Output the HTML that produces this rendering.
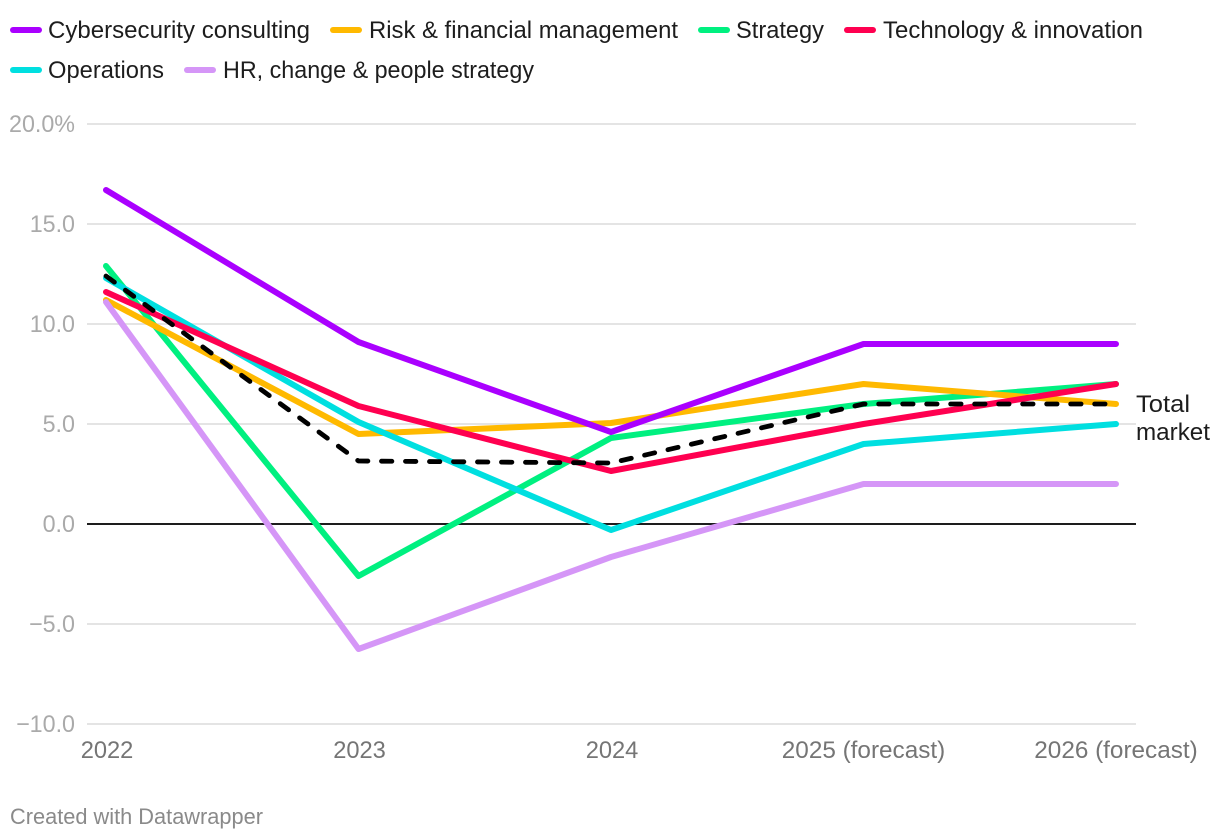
<!DOCTYPE html>
<html lang="en">
<head>
<meta charset="utf-8">
<title>Consulting market growth by segment</title>
<style>
html,body{margin:0;padding:0;background:#fff}
svg{display:block;font-family:"Liberation Sans",Arial,sans-serif}
.leg{font-size:24px;fill:#1d1d1d}
.yt{font-size:24px;fill:#aaaaaa}
.xt{font-size:24px;fill:#757575}
</style>
</head>
<body>
<svg id="chart" width="1220" height="840" viewBox="0 0 1220 840" xmlns="http://www.w3.org/2000/svg">
  <g id="grid"></g>
  <g id="yticks"></g>
  <g id="xticks"></g>
  <g id="series"></g>

  <g>
    <g>
      <line x1="13" x2="39" y1="30" y2="30" stroke="#aa00ff" stroke-width="6" stroke-linecap="round"/>
      <text class="leg" x="48" y="38" textLength="262" lengthAdjust="spacingAndGlyphs">Cybersecurity consulting</text>
    </g>
    <g>
      <line x1="333" x2="359" y1="30" y2="30" stroke="#ffb900" stroke-width="6" stroke-linecap="round"/>
      <text class="leg" x="369" y="38" textLength="309" lengthAdjust="spacingAndGlyphs">Risk &amp; financial management</text>
    </g>
    <g>
      <line x1="701" x2="727" y1="30" y2="30" stroke="#00f080" stroke-width="6" stroke-linecap="round"/>
      <text class="leg" x="736" y="38" textLength="88" lengthAdjust="spacingAndGlyphs">Strategy</text>
    </g>
    <g>
      <line x1="847" x2="873" y1="30" y2="30" stroke="#ff0050" stroke-width="6" stroke-linecap="round"/>
      <text class="leg" x="883" y="38" textLength="260" lengthAdjust="spacingAndGlyphs">Technology &amp; innovation</text>
    </g>
    <g>
      <line x1="13" x2="39" y1="70" y2="70" stroke="#00dfe0" stroke-width="6" stroke-linecap="round"/>
      <text class="leg" x="48" y="78" textLength="116" lengthAdjust="spacingAndGlyphs">Operations</text>
    </g>
    <g>
      <line x1="187" x2="213" y1="70" y2="70" stroke="#d596f7" stroke-width="6" stroke-linecap="round"/>
      <text class="leg" x="223" y="78" textLength="311" lengthAdjust="spacingAndGlyphs">HR, change &amp; people strategy</text>
    </g>
  </g>

  <g>
    <text class="leg" x="1136" y="412" textLength="54" lengthAdjust="spacingAndGlyphs">Total</text>
    <text class="leg" x="1136" y="440" textLength="74" lengthAdjust="spacingAndGlyphs">market</text>
  </g>

  <text x="10" y="824" font-size="22" fill="#8a8a8a" textLength="253" lengthAdjust="spacingAndGlyphs">Created with Datawrapper</text>
</svg>
<script>
var categories = ['2022', '2023', '2024', '2025 (forecast)', '2026 (forecast)'];
var yTickValues = [20, 15, 10, 5, 0, -5, -10];
var yTickLabels = ['20.0%', '15.0', '10.0', '5.0', '0.0', '\u22125.0', '\u221210.0'];

var strategyValues = [12.9, -2.6, 4.3, 6, 7];
var riskValues = [11.2, 4.5, 5.05, 7, 6];
var hrValues = [11.1, -6.25, -1.65, 2, 2];
var cyberValues = [16.7, 9.1, 4.6, 9, 9];
var operationsValues = [12.3, 5.1, -0.3, 4, 5];
var technologyValues = [11.6, 5.9, 2.65, 5, 7];
var totalValues = [12.4, 3.15, 3.05, 6, 6];

var NS = 'http://www.w3.org/2000/svg';

function xScale(i) {
  return 106 + i * (1116 - 106) / (categories.length - 1);
}
function yScale(v) {
  return 524 - v * 20;
}
function make(tag, attrs, parent) {
  var el = document.createElementNS(NS, tag);
  for (var k in attrs) el.setAttribute(k, attrs[k]);
  parent.appendChild(el);
  return el;
}
function pathFor(values) {
  return values.map(function (v, i) {
    return (i ? 'L' : 'M') + xScale(i).toFixed(2) + ' ' + yScale(v).toFixed(2);
  }).join(' ');
}
function fitText(el, factor) {
  el.setAttribute('textLength', (el.getComputedTextLength() * factor).toFixed(1));
  el.setAttribute('lengthAdjust', 'spacingAndGlyphs');
}

var gridGroup = document.getElementById('grid');
var yGroup = document.getElementById('yticks');
yTickValues.forEach(function (v, i) {
  var line = make('line', {
    x1: 87, x2: 1136, y1: yScale(v), y2: yScale(v),
    stroke: v === 0 ? '#1d1d1d' : '#e4e4e4',
    'stroke-width': 2
  }, gridGroup);
  
  

  var label = make('text', {
    x: 75, y: yScale(v) + 8, 'text-anchor': 'end', 'class': 'yt'
  }, yGroup);
  label.textContent = yTickLabels[i];
  
  
  fitText(label, 0.97);
});

var xGroup = document.getElementById('xticks');
categories.forEach(function (c, i) {
  var isLong = c.length > 4;
  var label = make('text', {
    x: xScale(i) + (isLong ? 0 : 1), y: 758, 'text-anchor': 'middle', 'class': 'xt'
  }, xGroup);
  label.textContent = c;
  
  
  fitText(label, isLong ? 1.012 : 0.985);
});

var seriesGroup = document.getElementById('series');
function drawSeries(values, color, width, dash) {
  var attrs = {
    d: pathFor(values), fill: 'none', stroke: color, 'stroke-width': width,
    'stroke-linejoin': 'round', 'stroke-linecap': 'round'
  };
  if (dash) attrs['stroke-dasharray'] = dash;
  return make('path', attrs, seriesGroup);
}

var strategyLine = drawSeries(strategyValues, '#00f080', 6);



var riskLine = drawSeries(riskValues, '#ffb900', 6);



var hrLine = drawSeries(hrValues, '#d596f7', 6);



var cyberLine = drawSeries(cyberValues, '#aa00ff', 6);



var operationsLine = drawSeries(operationsValues, '#00dfe0', 6);



var technologyLine = drawSeries(technologyValues, '#ff0050', 6);



var totalLine = drawSeries(totalValues, '#000000', 4.8, '10.4 13.6');


</script>
</body>
</html>
